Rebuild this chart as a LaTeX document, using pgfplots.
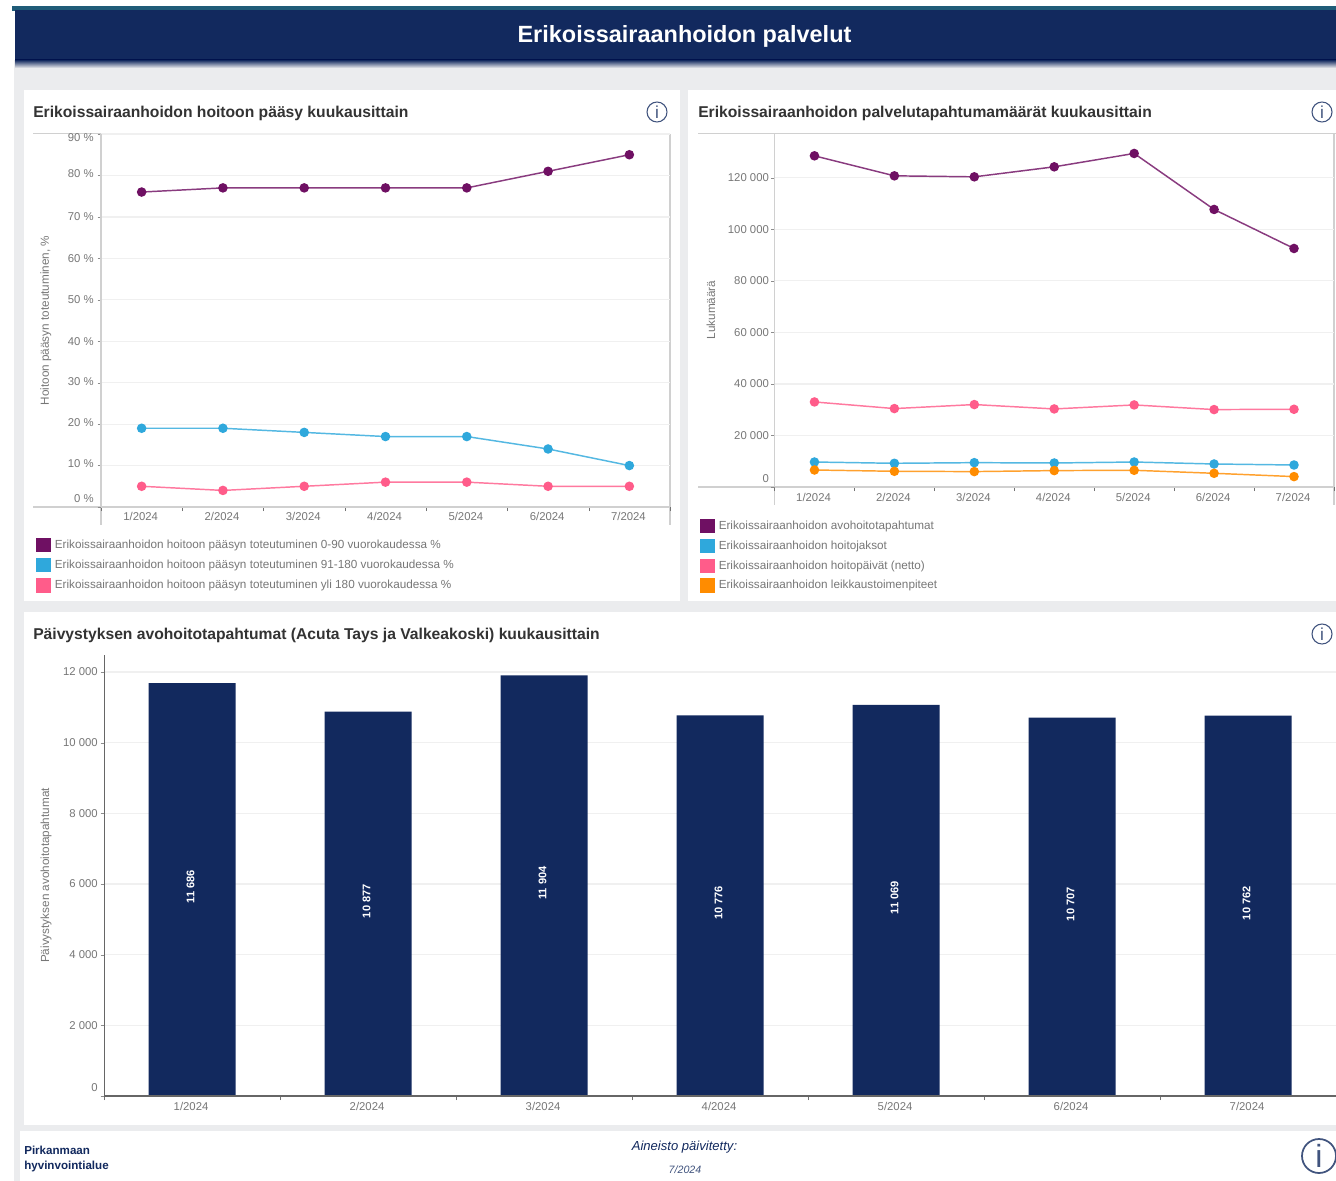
\documentclass[border=0pt]{standalone}
\usepackage{fontspec}
\setmainfont{Liberation Sans}
\usepackage{pgfplots}
\pgfplotsset{compat=1.18}

\definecolor{navy}{HTML}{12295E}
\definecolor{teal1}{HTML}{1F5C78}
\definecolor{bgray}{HTML}{EBECEE}
\definecolor{cpurple}{HTML}{6F1063}
\definecolor{cblue}{HTML}{2FA8DC}
\definecolor{cpink}{HTML}{FF5C8A}
\definecolor{corange}{HTML}{FF8C00}
\definecolor{txt}{HTML}{777777}
\definecolor{ttl}{HTML}{333333}
\definecolor{axl}{HTML}{D0D0D0}
\definecolor{grd}{HTML}{F0F0F0}

\newcommand{\ftick}{\fontsize{8.5}{10}\selectfont}
\newcommand{\fleg}{\fontsize{8.8}{10}\selectfont}
\newcommand{\fttl}{\fontsize{11.75}{14}\bfseries\selectfont}
% shift a tick label without changing its box
\newcommand{\sh}[2]{\raisebox{#1}[\height][\depth]{#2}}

\pgfplotsset{
  panel/.style={
    scale only axis, axis lines*=left, xmin=0, xmax=7, ymin=0,
    scaled y ticks=false,
    xtick={0.5,1.5,2.5,3.5,4.5,5.5,6.5},
    xticklabels={1/2024,2/2024,3/2024,4/2024,5/2024,6/2024,7/2024},
    minor xtick={0,1,2,3,4,5,6,7},
    tick align=outside, major tick length=2.5pt, minor tick length=3pt,
    major x tick style={draw=none}, minor x tick style={draw=black!55},
    major y tick style={draw=black!45},
    ymajorgrids, major grid style={grd, line width=0.9pt},
    tick label style={font=\ftick, text=txt, inner sep=0pt},
    yticklabel style={anchor=east, xshift=-2.8pt},
    xticklabel style={yshift=-1.5pt, xshift=-0.7pt},
    legend cell align=left,
    legend image code/.code={\fill[##1,draw=none] (0pt,-5.4pt) rectangle (11pt,5.4pt); \path[draw=none] (0pt,0pt) -- (14pt,0pt);},
    clip=false,
  },
  ylab/.style={every axis y label/.style={at={(axis description cs:#1,0.5)}, rotate=90, anchor=center,
    font=\fontsize{8.8}{10}\selectfont, text=txt}},
  ser/.style={color=#1, draw=#1!82, line width=1.1pt, mark=*, mark size=3pt, mark options={solid, fill=#1, draw=#1}},
}

\begin{document}
\begin{tikzpicture}[x=0.75pt,y=0.75pt]
\useasboundingbox (0,0) rectangle (1336,-1181);

% page background and header
\fill[white] (0,0) rectangle (1336,-1181);
\fill[bgray] (14,-60) rectangle (1336,-1181);
\fill[teal1] (12,-6) rectangle (1336,-11);
\fill[navy] (15,-10) rectangle (1336,-60);
\shade[top color=navy, bottom color=bgray] (15,-60) rectangle (1336,-68);
\node[text=white, font=\fontsize{17.6}{20}\bfseries\selectfont] at (684.5,-36) {Erikoissairaanhoidon palvelut};

% panels
\fill[white] (24,-90) rectangle (680,-601);
\fill[white] (688,-90) rectangle (1336,-601);
\fill[white] (24,-612) rectangle (1336,-1125);
\fill[white] (20,-1131) rectangle (1336,-1181);

% panel titles
\node[anchor=base west, inner sep=0pt, text=ttl, font=\fttl] at (33,-117.5) {Erikoissairaanhoidon hoitoon pääsy kuukausittain};
\node[anchor=base west, inner sep=0pt, text=ttl, font=\fttl] at (698,-117.5) {Erikoissairaanhoidon palvelutapahtumamäärät kuukausittain};
\node[anchor=base west, inner sep=0pt, text=ttl, font=\fttl] at (33,-639) {Päivystyksen avohoitotapahtumat (Acuta Tays ja Valkeakoski) kuukausittain};

% frame lines of the two line charts
\draw[axl, line width=0.8pt] (33,-133.5) -- (670,-133.5);
\draw[axl, line width=0.8pt] (101,-134) -- (101,-525);
\draw[axl, line width=0.8pt] (670,-134) -- (670,-525);
\draw[axl, line width=0.8pt] (33,-507) -- (101,-507);
\draw[axl, line width=0.8pt] (698,-133.5) -- (1336,-133.5);
\draw[axl, line width=0.8pt] (774.5,-134) -- (774.5,-505);
\draw[axl, line width=0.8pt] (1334,-134) -- (1334,-505);
\draw[axl, line width=0.8pt] (698,-487) -- (774.5,-487);

\begin{axis}[
  panel, at={(75.75pt,-380.25pt)}, anchor=south west,
  width=426.75pt, height=279.75pt,
  ymax=90,
  ytick={0,10,20,30,40,50,60,70,80,90},
  yticklabels={\sh{6pt}{0 \%},\sh{1.5pt}{10 \%},\sh{1pt}{20 \%},\sh{0.5pt}{30 \%},40 \%,50 \%,60 \%,\sh{0.5pt}{70 \%},\sh{1.5pt}{80 \%},\sh{-3pt}{90 \%}},
  axis line style={draw=axl, line width=0.8pt},
  ylabel={Hoitoon pääsyn toteutuminen, \%}, ylab=-0.097,
  legend style={at={(axis description cs:-0.114,-0.083)}, anchor=north west, draw=none, fill=none,
    inner sep=0pt, outer sep=0pt, font=\fleg, text=txt, row sep=4.3pt,
    nodes={inner sep=0pt, text=txt}},
]
\addplot[ser=cpurple] coordinates {(0.5,76) (1.5,77) (2.5,77) (3.5,77) (4.5,77) (5.5,81) (6.5,85)};
\addlegendentry{Erikoissairaanhoidon hoitoon pääsyn toteutuminen 0-90 vuorokaudessa \%}
\addplot[ser=cblue] coordinates {(0.5,19) (1.5,19) (2.5,18) (3.5,17) (4.5,17) (5.5,14) (6.5,10)};
\addlegendentry{Erikoissairaanhoidon hoitoon pääsyn toteutuminen 91-180 vuorokaudessa \%}
\addplot[ser=cpink] coordinates {(0.5,5) (1.5,4) (2.5,5) (3.5,6) (4.5,6) (5.5,5) (6.5,5)};
\addlegendentry{Erikoissairaanhoidon hoitoon pääsyn toteutuminen yli 180 vuorokaudessa \%}
\end{axis}

\begin{axis}[
  panel, at={(580.875pt,-365.25pt)}, anchor=south west,
  width=419.6pt, height=265.5pt,
  ymax=137400,
  ytick={0,20000,40000,60000,80000,100000,120000},
  yticklabels={\sh{6pt}{0},20 000,40 000,60 000,80 000,100 000,120 000},
  yticklabel style={xshift=1.3pt},
  xticklabel style={yshift=-0.3pt},
  axis line style={draw=axl, line width=0.8pt},
  ylabel={Lukumäärä}, ylab=-0.1136,
  legend style={at={(axis description cs:-0.133,-0.090)}, anchor=north west, draw=none, fill=none,
    inner sep=0pt, outer sep=0pt, font=\fleg, text=txt, row sep=4.1pt,
    nodes={inner sep=0pt, text=txt}},
]
\addplot[ser=cpurple] coordinates {(0.5,128544) (1.5,120777) (2.5,120388) (3.5,124272) (4.5,129460) (5.5,107728) (6.5,92582)};
\addlegendentry{Erikoissairaanhoidon avohoitotapahtumat}
\addplot[ser=cblue] coordinates {(0.5,9700) (1.5,9200) (2.5,9450) (3.5,9320) (4.5,9700) (5.5,8930) (6.5,8540)};
\addlegendentry{Erikoissairaanhoidon hoitojaksot}
\addplot[ser=cpink] coordinates {(0.5,33010) (1.5,30440) (2.5,32000) (3.5,30300) (4.5,31850) (5.5,30050) (6.5,30170)};
\addlegendentry{Erikoissairaanhoidon hoitopäivät (netto)}
\addplot[ser=corange] coordinates {(0.5,6600) (1.5,6100) (2.5,5980) (3.5,6370) (4.5,6490) (5.5,5320) (6.5,4040)};
\addlegendentry{Erikoissairaanhoidon leikkaustoimenpiteet}
\end{axis}

\begin{axis}[
  panel, at={(78pt,-822pt)}, anchor=south west,
  width=924pt, height=330.75pt,
  ymax=12481,
  ytick={0,2000,4000,6000,8000,10000,12000},
  yticklabels={\sh{6pt}{0},2 000,4 000,6 000,8 000,10 000,12 000},
  yticklabel style={xshift=0.8pt},
  xticklabel style={yshift=-0.8pt},
  axis line style={draw=black!60, line width=0.7pt},
  ylabel={Päivystyksen avohoitotapahtumat}, ylab=-0.047,
]
\addplot[ybar, bar width=65.25pt, fill=navy, draw=none] coordinates {(0.5,11686) (1.5,10877) (2.5,11904) (3.5,10776) (4.5,11069) (5.5,10707) (6.5,10762)};
\addplot[draw=none, no markers, point meta=explicit symbolic, nodes near coords,
  every node near coord/.style={rotate=90, anchor=center, xshift=2pt, yshift=1.1pt, text=white, font=\fontsize{8.3}{9}\bfseries\selectfont}]
  coordinates {(0.5,5843) [11 686] (1.5,5438) [10 877] (2.5,5952) [11 904] (3.5,5388) [10 776] (4.5,5534) [11 069] (5.5,5353) [10 707] (6.5,5381) [10 762]};
\end{axis}
\draw[black!60, line width=1.1pt] (104,-1096) -- (1336,-1096);

% info icons
\draw[navy!80, line width=0.8pt] (657,-112) circle (10);
\node[navy!80, font=\fontsize{13}{14}\selectfont] at (657,-112) {i};
\draw[navy!80, line width=0.8pt] (1322,-112) circle (10);
\node[navy!80, font=\fontsize{13}{14}\selectfont] at (1322,-112) {i};
\draw[navy!80, line width=0.8pt] (1322,-634) circle (10);
\node[navy!80, font=\fontsize{13}{14}\selectfont] at (1322,-634) {i};
\draw[navy!80, line width=1.3pt] (1319,-1156) circle (17);
\node[navy!80, font=\fontsize{24}{26}\selectfont] at (1319,-1156) {i};

% footer
\node[anchor=base west, inner sep=0pt, text=navy, font=\fontsize{8.7}{10}\bfseries\selectfont] at (24,-1154) {Pirkanmaan};
\node[anchor=base west, inner sep=0pt, text=navy, font=\fontsize{8.7}{10}\bfseries\selectfont] at (24,-1169) {hyvinvointialue};
\node[text=navy, font=\fontsize{9.8}{11}\itshape\selectfont] at (684.5,-1147) {Aineisto päivitetty:};
\node[text=navy!80, font=\fontsize{8}{9}\itshape\selectfont] at (685,-1170) {7/2024};
\end{tikzpicture}
\end{document}
